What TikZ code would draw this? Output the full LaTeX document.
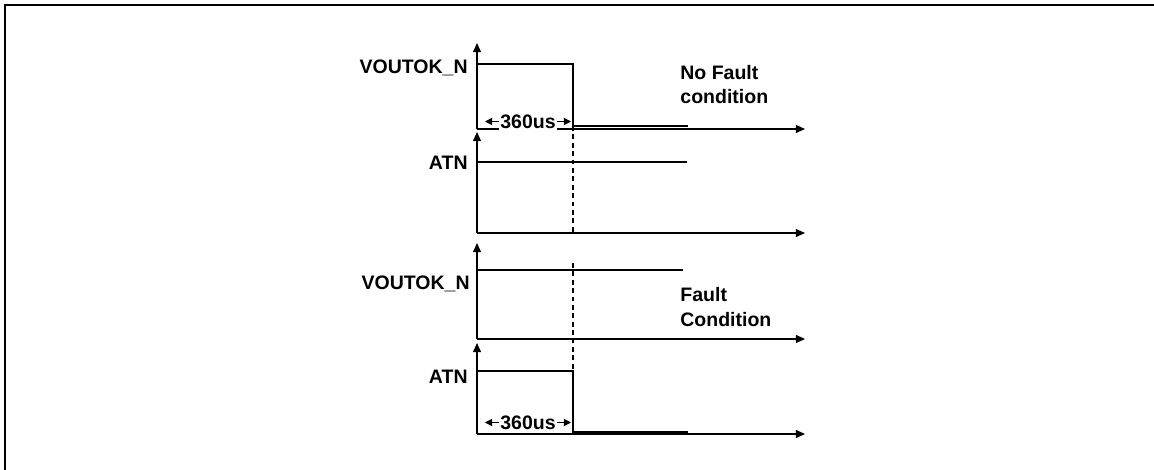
\documentclass[tikz,border=0pt]{standalone}
\usepackage{fontspec}
\setmainfont{Liberation Sans}
\usetikzlibrary{arrows.meta}
\begin{document}
\begin{tikzpicture}[x=0.5bp,y=-0.5bp,
  font=\fontsize{9.75bp}{11.7bp}\selectfont\bfseries,
  axis/.style={line width=0.65bp,-{Triangle[length=4.6bp,width=4bp]}},
  sig/.style={line width=0.65bp},
  guide/.style={line width=0.65bp,dash pattern=on 2.4bp off 1.8bp},
  span/.style={line width=0.65bp,{Triangle[length=3.6bp,width=3.6bp]}-{Triangle[length=3.6bp,width=3.6bp]}},
  lbl/.style={anchor=base east,inner sep=0pt},
  note/.style={anchor=base west,inner sep=0pt},
  dur/.style={fill=white,inner sep=0.6bp}]
\useasboundingbox (0,0) rectangle (1154,470);
\fill[white] (0,0) rectangle (1154,470);
\draw[line width=1.1bp] (5,470) -- (5,5) -- (1154,5);

% origins and axis ends
\coordinate (o1) at (477,129); \coordinate (y1) at (477,43);  \coordinate (x1) at (805,129);
\coordinate (o2) at (477,233); \coordinate (y2) at (477,132); \coordinate (x2) at (805,233);
\coordinate (o3) at (477,339); \coordinate (y3) at (477,243); \coordinate (x3) at (805,339);
\coordinate (o4) at (477,434); \coordinate (y4) at (477,343); \coordinate (x4) at (805,434);

\foreach \i in {1,2,3,4} {
  \draw[axis] (o\i) -- (y\i);
  \draw[axis] (o\i) -- (x\i);
}

% panel 1: no fault
\coordinate (a1) at (477,64); \coordinate (b1) at (573,64);
\coordinate (c1) at (573,126); \coordinate (d1) at (688,126);
\draw[sig] (a1) -- (b1) -- (c1) -- (d1);
\coordinate (e1) at (477,162); \coordinate (f1) at (687,162);
\draw[sig] (e1) -- (f1);
\coordinate (g1) at (573,233);
\draw[guide] (c1) -- (g1);
\coordinate (s1) at (485,121.5); \coordinate (t1) at (571,121.5);
\draw[span] (s1) -- node[dur] (m1) {360us} (t1);

% panel 2: fault
\coordinate (a2) at (477,270); \coordinate (b2) at (683,270);
\draw[sig] (a2) -- (b2);
\coordinate (h2) at (477,371); \coordinate (i2) at (573,371);
\coordinate (j2) at (573,432); \coordinate (k2) at (688,432);
\draw[sig] (h2) -- (i2) -- (j2) -- (k2);
\coordinate (g2) at (573,263);
\draw[guide] (g2) -- (i2);
\coordinate (s2) at (485,422.5); \coordinate (t2) at (571,422.5);
\draw[span] (s2) -- node[dur] (m2) {360us} (t2);

% labels
\node[lbl] (v1) at (468,73.5) {VOUTOK\_N};
\node[lbl] (n1) at (468,169.5) {ATN};
\node[lbl] (v2) at (470,290) {VOUTOK\_N};
\node[lbl] (n2) at (468,383.5) {ATN};

\node[note] (nf1) at (680,80) {No Fault};
\node[note] (nf2) at (680,103.5) {condition};
\node[note] (ff1) at (680,302) {Fault};
\node[note] (ff2) at (680,327) {Condition};
\end{tikzpicture}
\end{document}
